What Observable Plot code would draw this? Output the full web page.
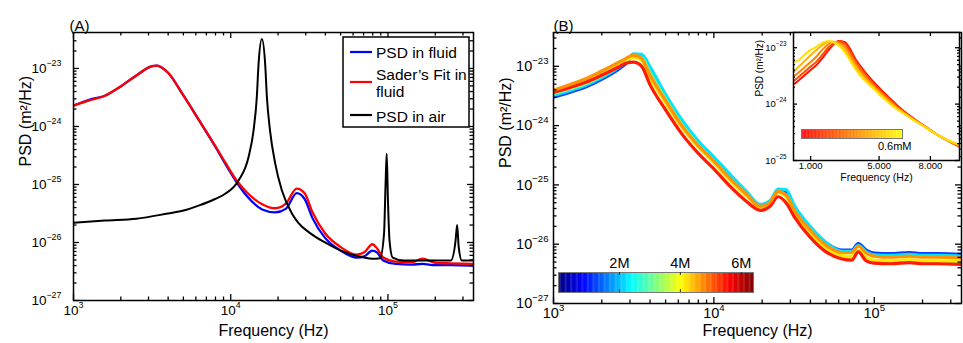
<!DOCTYPE html>
<html><head><meta charset="utf-8">
<script src="https://cdn.jsdelivr.net/npm/d3@7"></script>
<script src="https://cdn.jsdelivr.net/npm/@observablehq/plot@0.6"></script>
<style>
body{margin:0;background:#fff;}
#root{position:relative;width:963px;height:343px;overflow:hidden;background:#fff;font-family:"Liberation Sans",Arial,Helvetica,sans-serif;}
#root > *{position:absolute;}
</style></head><body><div id="root"></div>
<script>
// ---------------- Panel A data (log10 of frequency in Hz, log10 of PSD in m^2/Hz) ----------------
const fluidLogF = [3.0,3.1,3.2,3.3,3.4,3.5,3.53,3.6,3.7,3.8,3.9,3.965,4.04,4.1,4.2,4.283,4.35,4.42,4.47,4.52,4.6,4.7,4.8,4.85,4.9,4.93,4.97,5.05,5.15,5.22,5.3,5.4,5.54];
const fluidLogPSD = [-23.64,-23.54,-23.47,-23.31,-23.12,-22.96,-22.95,-23.07,-23.47,-23.9,-24.34,-24.64,-24.97,-25.19,-25.43,-25.48,-25.42,-25.15,-25.25,-25.58,-25.92,-26.14,-26.26,-26.24,-26.14,-26.17,-26.31,-26.37,-26.38,-26.37,-26.39,-26.39,-26.40];
const fitLogPSD = [-23.64,-23.55,-23.47,-23.31,-23.12,-22.96,-22.95,-23.07,-23.47,-23.9,-24.33,-24.62,-24.94,-25.13,-25.34,-25.41,-25.33,-25.07,-25.15,-25.48,-25.84,-26.08,-26.21,-26.17,-26.03,-26.1,-26.26,-26.33,-26.34,-26.28,-26.35,-26.36,-26.37];
const airLogF = [3.0,3.2,3.4,3.6,3.7,3.8,3.9,3.965,4.05,4.113,4.145,4.166,4.177,4.198,4.219,4.23,4.25,4.283,4.325,4.389,4.43,4.5,4.6,4.7,4.8,4.9,4.95,4.975,4.985,4.992,5.0,5.01,5.03,5.1,5.2,5.3,5.4,5.43,5.44,5.45,5.47,5.54];
const airLogPSD = [-25.66,-25.62,-25.59,-25.5,-25.45,-25.36,-25.25,-25.16,-24.93,-24.53,-24.07,-23.49,-22.92,-22.49,-22.92,-23.49,-24.07,-24.64,-25.1,-25.5,-25.66,-25.83,-26.0,-26.14,-26.23,-26.28,-26.27,-25.85,-24.98,-24.47,-25.28,-25.97,-26.26,-26.31,-26.31,-26.31,-26.31,-25.97,-25.7,-26.08,-26.31,-26.31];
const legendLabelsA = ["PSD in fluid", "Sader\u2019s Fit in", "fluid", "PSD in air"];

// ---------------- Panel B data ----------------
const bLogF = [3.0,3.1,3.2,3.3,3.4,3.45,3.5,3.55,3.6,3.7,3.8,3.9,4.0,4.1,4.2,4.29,4.35,4.4,4.45,4.5,4.6,4.7,4.8,4.86,4.9,4.95,5.0,5.1,5.22,5.3,5.4,5.54];
const bBlue   = [-23.52,-23.44,-23.35,-23.22,-23.06,-22.96,-22.81,-22.84,-23.06,-23.52,-23.95,-24.3,-24.58,-24.87,-25.13,-25.35,-25.3,-25.12,-25.12,-25.38,-25.74,-25.98,-26.1,-26.1,-25.99,-26.1,-26.15,-26.16,-26.14,-26.16,-26.16,-26.17];
const bCyan   = [-23.49,-23.41,-23.32,-23.19,-23.03,-22.93,-22.79,-22.80,-23.0,-23.48,-23.9,-24.25,-24.53,-24.82,-25.1,-25.33,-25.27,-25.07,-25.08,-25.34,-25.7,-25.97,-26.12,-26.12,-26.02,-26.13,-26.18,-26.19,-26.17,-26.19,-26.19,-26.2];
const bGreen  = [-23.46,-23.38,-23.29,-23.16,-23.01,-22.92,-22.83,-22.86,-23.1,-23.56,-23.98,-24.32,-24.6,-24.9,-25.16,-25.37,-25.3,-25.12,-25.17,-25.42,-25.78,-26.05,-26.2,-26.22,-26.12,-26.24,-26.29,-26.31,-26.3,-26.31,-26.31,-26.32];
const bYellow = [-23.42,-23.34,-23.25,-23.12,-22.98,-22.9,-22.85,-22.9,-23.18,-23.62,-24.03,-24.35,-24.63,-24.92,-25.18,-25.37,-25.3,-25.13,-25.2,-25.45,-25.8,-26.06,-26.19,-26.2,-26.1,-26.22,-26.27,-26.28,-26.26,-26.28,-26.28,-26.29];
const bOrange = [-23.40,-23.31,-23.21,-23.08,-22.94,-22.87,-22.81,-22.87,-23.14,-23.58,-24.0,-24.33,-24.6,-24.89,-25.15,-25.36,-25.29,-25.11,-25.17,-25.42,-25.76,-26.02,-26.14,-26.14,-26.03,-26.15,-26.2,-26.22,-26.2,-26.22,-26.22,-26.23];
const bRed    = [-23.44,-23.36,-23.27,-23.15,-23.02,-22.95,-22.93,-23.0,-23.3,-23.74,-24.14,-24.46,-24.73,-25.02,-25.27,-25.43,-25.36,-25.2,-25.3,-25.53,-25.88,-26.13,-26.25,-26.27,-26.13,-26.28,-26.32,-26.33,-26.31,-26.33,-26.33,-26.34];
const bSeriesNames  = ["blue","cyan","green","yellow","red","orange"];
const bSeriesColors = ["#0a3cff","#00e4ff","#86ff78","#ffe800","#ff1a00","#ff9200"];
const bSeriesValues = [bBlue,bCyan,bGreen,bYellow,bRed,bOrange];

// colour bar (panel B): concentration in M
const cbTicks = [2,4,6];
const cbTickLabels = ["2M","4M","6M"];
const jetDomain = [0,0.8,2.4,4.0,5.6,6.4];
const jetColors = ["#00007f","#0000ff","#00ffff","#ffff00","#ff0000","#7f0000"];

// ---------------- Inset data (linear frequency in Hz, log10 PSD) ----------------
const insetF = [50,300,600,900,1300,1700,2000,2300,2650,3000,3300,3620,4100,4600,5100,5570,6050,6550,7000,7520,8000,8490,9100,9700];
const inRed     = [-23.64,-23.58,-23.5,-23.42,-23.32,-23.18,-23.06,-22.95,-22.88,-22.9,-23.02,-23.2,-23.4,-23.58,-23.74,-23.88,-24.02,-24.15,-24.25,-24.36,-24.46,-24.56,-24.66,-24.76];
const inRedOr   = [-23.58,-23.52,-23.44,-23.36,-23.26,-23.12,-23.01,-22.93,-22.89,-22.93,-23.06,-23.23,-23.43,-23.61,-23.77,-23.9,-24.04,-24.16,-24.26,-24.37,-24.46,-24.56,-24.66,-24.75];
const inOrange  = [-23.5,-23.44,-23.36,-23.28,-23.17,-23.03,-22.95,-22.9,-22.91,-22.98,-23.12,-23.28,-23.48,-23.65,-23.8,-23.93,-24.06,-24.17,-24.27,-24.37,-24.47,-24.56,-24.66,-24.74];
const inYOrange = [-23.42,-23.34,-23.25,-23.16,-23.05,-22.95,-22.9,-22.89,-22.94,-23.04,-23.18,-23.33,-23.54,-23.68,-23.83,-23.96,-24.08,-24.18,-24.28,-24.37,-24.47,-24.56,-24.65,-24.73];
const inYellow  = [-23.25,-23.22,-23.14,-23.06,-22.99,-22.91,-22.88,-22.9,-22.96,-23.08,-23.22,-23.38,-23.56,-23.7,-23.85,-23.98,-24.09,-24.19,-24.28,-24.37,-24.47,-24.56,-24.65,-24.72];
const inSeriesColors = ["#ff1400","#ff4a00","#ff8200","#ffb400","#ffe000"];
const inSeriesValues = [inRed,inRedOr,inOrange,inYOrange,inYellow];
const inXTicks = [1000,5000,8000];
const inXTickLabels = ["1.000","5.000","8.000"];
const inBarTickLabel = "0.6mM";

// ---------------- helpers ----------------
const FONT = '"Liberation Sans", Arial, Helvetica, sans-serif';
const root = document.getElementById("root");
const rows = (lf, lp) => lf.map((v, i) => ({f: 10 ** v, psd: 10 ** lp[i]}));
const rowsLin = (f, lp) => f.map((v, i) => ({f: v, psd: 10 ** lp[i]}));
const powFmt = v => { const e = Math.round(Math.log10(v)); return "10^" + (e < 0 ? "\u2212" + (-e) : e); };
function logMinor(lo, hi) {
  const out = [];
  for (let k = Math.floor(Math.log10(lo)); k <= Math.ceil(Math.log10(hi)); k++)
    for (let m = 2; m <= 9; m++) { const v = m * 10 ** k; if (v >= lo && v <= hi) out.push(v); }
  return out;
}
// inward ticks on all four sides (MATLAB box style)
function boxAxes({fw, fh, xMajor, xMinor, yMajor, yMinor, xFmt, yFmt, fs, xPad, yPad, majorLen, minorLen}) {
  const m = [];
  const tx = (data, len) => [
    Plot.tickX(data, {x: d => d, insetTop: fh - len, stroke: "black", strokeWidth: 1.3}),
    Plot.tickX(data, {x: d => d, insetBottom: fh - len, stroke: "black", strokeWidth: 1.3})
  ];
  const ty = (data, len) => [
    Plot.tickY(data, {y: d => d, insetRight: fw - len, stroke: "black", strokeWidth: 1.3}),
    Plot.tickY(data, {y: d => d, insetLeft: fw - len, stroke: "black", strokeWidth: 1.3})
  ];
  m.push(...tx(xMajor, majorLen), ...ty(yMajor, majorLen));
  if (xMinor.length) m.push(...tx(xMinor, minorLen));
  if (yMinor.length) m.push(...ty(yMinor, minorLen));
  m.push(Plot.axisX({anchor: "bottom", ticks: xMajor, tickSize: 0, tickPadding: xPad, tickFormat: xFmt, fontSize: fs, label: null}));
  m.push(Plot.axisY({anchor: "left", ticks: yMajor, tickSize: 0, tickPadding: yPad, tickFormat: yFmt, fontSize: fs, label: null}));
  return m;
}
function supify(svg, fs) {
  svg.querySelectorAll("text").forEach(t => {
    const s = t.textContent;
    if (!s.includes("^")) return;
    const [base, exp] = s.split("^");
    t.textContent = base;
    const ts = document.createElementNS("http://www.w3.org/2000/svg", "tspan");
    ts.setAttribute("font-size", (fs * 0.66).toFixed(1));
    ts.setAttribute("dy", (-fs * 0.5).toFixed(1));
    ts.textContent = exp;
    t.appendChild(ts);
  });
}
function place(el, left, top) { el.style.left = left + "px"; el.style.top = top + "px"; root.appendChild(el); return el; }
const baseStyle = {background: "transparent", fontFamily: FONT, color: "black", overflow: "visible"};

// ---------------- Panel A ----------------
const xMajor = [1e3, 1e4, 1e5];
const xMinorAll = logMinor(1e3, 3.5e5);
const yMajor = [1e-27, 1e-26, 1e-25, 1e-24, 1e-23];
const yMinorAll = logMinor(1e-27, 10 ** -22.4);

const plotA = Plot.plot({
  width: 480, height: 343, marginLeft: 73, marginRight: 7, marginTop: 32, marginBottom: 43,
  style: baseStyle,
  x: {type: "log", domain: [1e3, 3.5e5]},
  y: {type: "log", domain: [1e-27, 10 ** -22.38]},
  marks: [
    Plot.line(rows(fluidLogF, fluidLogPSD), {x: "f", y: "psd", stroke: "#0000ff", strokeWidth: 2.3, curve: "monotone-x", clip: true}),
    Plot.line(rows(fluidLogF, fitLogPSD), {x: "f", y: "psd", stroke: "#ff0000", strokeWidth: 2.3, curve: "monotone-x", clip: true}),
    Plot.line(rows(airLogF, airLogPSD), {x: "f", y: "psd", stroke: "#000000", strokeWidth: 2, curve: "monotone-x", clip: true}),
    Plot.frame({stroke: "black", strokeWidth: 1.5}),
    ...boxAxes({fw: 400, fh: 268, xMajor, xMinor: xMinorAll, yMajor, yMinor: yMinorAll, xFmt: powFmt, yFmt: powFmt, fs: 13.5, xPad: 5, yPad: 12, majorLen: 6, minorLen: 3.5}),
    Plot.text(["(A)"], {text: d => d, frameAnchor: "top-left", dx: -4, dy: -12, textAnchor: "start", fontSize: 15}),
    Plot.text(["Frequency (Hz)"], {text: d => d, frameAnchor: "bottom", dy: 35, fontSize: 16}),
    Plot.text(["PSD (m\u00b2/Hz)"], {text: d => d, frameAnchor: "left", dx: -48, rotate: -90, fontSize: 16})
  ]
});
supify(plotA, 13.5);
place(plotA, 0, 0);

// legend of panel A
(function () {
  const ns = "http://www.w3.org/2000/svg";
  const svg = document.createElementNS(ns, "svg");
  svg.setAttribute("width", 130); svg.setAttribute("height", 94);
  svg.style.fontFamily = FONT;
  const add = (tag, attrs, txt) => { const e = document.createElementNS(ns, tag); for (const k in attrs) e.setAttribute(k, attrs[k]); if (txt) e.textContent = txt; svg.appendChild(e); return e; };
  add("rect", {x: 1, y: 1, width: 126, height: 90, fill: "white", stroke: "black", "stroke-width": 1.5});
  const lines = [["#0000ff", 16], ["#ff0000", 46], ["#000000", 79]];
  lines.forEach(([c, y]) => add("line", {x1: 8, x2: 30, y1: y, y2: y, stroke: c, "stroke-width": 2.2}));
  const ys = [16, 38, 55, 80];
  legendLabelsA.forEach((s, i) => add("text", {x: 34, y: ys[i], dy: "0.36em", "font-size": 15.5}, s));
  place(svg, 342, 36);
})();

// ---------------- Panel B ----------------
const plotB = Plot.plot({
  width: 483, height: 343, marginLeft: 73, marginRight: 2, marginTop: 32, marginBottom: 40,
  style: baseStyle,
  x: {type: "log", domain: [1e3, 3.5e5]},
  y: {type: "log", domain: [1e-27, 10 ** -22.43]},
  marks: [
    ...bSeriesValues.map((vals, i) => Plot.line(rows(bLogF, vals), {x: "f", y: "psd", stroke: bSeriesColors[i], strokeWidth: 3.2, curve: "monotone-x", clip: true})),
    Plot.frame({stroke: "black", strokeWidth: 1.5}),
    ...boxAxes({fw: 408, fh: 271, xMajor, xMinor: xMinorAll, yMajor, yMinor: yMinorAll, xFmt: powFmt, yFmt: powFmt, fs: 14.5, xPad: 4, yPad: 5, majorLen: 6, minorLen: 3.5}),
    Plot.text(["(B)"], {text: d => d, frameAnchor: "top-left", dx: 0, dy: -12, textAnchor: "start", fontSize: 15}),
    Plot.text(["Frequency (Hz)"], {text: d => d, frameAnchor: "bottom", dy: 32, fontSize: 16}),
    Plot.text(["PSD (m\u00b2/Hz)"], {text: d => d, frameAnchor: "left", dx: -48, rotate: -90, fontSize: 16})
  ]
});
supify(plotB, 14.5);
place(plotB, 480, 0);

// colour bar B
const cbSteps = d3.range(0, 6.4, 0.04);
const cbB = Plot.plot({
  width: 220, height: 55, marginLeft: 13, marginRight: 12, marginTop: 27, marginBottom: 8,
  style: baseStyle,
  x: {domain: [0, 6.4]}, y: {domain: [0, 1], axis: null},
  color: {type: "linear", domain: jetDomain, range: jetColors, interpolate: "rgb"},
  marks: [
    Plot.rect(cbSteps, {x1: d => d, x2: d => Math.min(6.4, d + 0.05), y1: () => 0, y2: () => 1, fill: d => d}),
    Plot.frame({stroke: "#777", strokeWidth: 1}),
    Plot.tickX(cbTicks, {x: d => d, insetTop: 17, stroke: "#333"}),
    Plot.tickX(cbTicks, {x: d => d, insetBottom: 17, stroke: "#333"}),
    Plot.axisX({anchor: "top", ticks: cbTicks, tickSize: 0, tickPadding: 5, tickFormat: (d, i) => cbTickLabels[i], fontSize: 14.5, label: null})
  ]
});
place(cbB, 545, 245);

// ---------------- Inset ----------------
const inYMajor = [1e-25, 1e-24, 1e-23];
const inYMinor = logMinor(1e-25, 10 ** -22.75);
const inset = Plot.plot({
  width: 223, height: 200, marginLeft: 53, marginRight: 4, marginTop: 32, marginBottom: 40,
  style: baseStyle,
  x: {type: "linear", domain: [0, 9700]},
  y: {type: "log", domain: [1e-25, 10 ** -22.73]},
  marks: [
    Plot.frame({fill: "white", stroke: null}),
    ...inSeriesValues.map((vals, i) => Plot.line(rowsLin(insetF, vals), {x: "f", y: "psd", stroke: inSeriesColors[i], strokeWidth: 2, curve: "monotone-x", clip: true})),
    Plot.frame({stroke: "black", strokeWidth: 1.5}),
    ...boxAxes({fw: 166, fh: 128, xMajor: inXTicks, xMinor: [], yMajor: inYMajor, yMinor: inYMinor, xFmt: (d, i) => inXTickLabels[i], yFmt: powFmt, fs: 9.5, xPad: 2, yPad: 7, majorLen: 4, minorLen: 2}),
    Plot.text(["Frequency (Hz)"], {text: d => d, frameAnchor: "bottom", dy: 20, fontSize: 10.5}),
    Plot.text(["PSD (m\u00b2/Hz)"], {text: d => d, frameAnchor: "left", dx: -34, rotate: -90, fontSize: 10})
  ]
});
supify(inset, 9.5);
place(inset, 740, 0);

// colour bar inset
const cbInSteps = d3.range(0, 0.65, 0.005);
const cbIn = Plot.plot({
  width: 130, height: 40, marginLeft: 11, marginRight: 18, marginTop: 10, marginBottom: 21,
  style: baseStyle,
  x: {domain: [0, 0.65]}, y: {domain: [0, 1], axis: null},
  color: {type: "linear", domain: [0, 0.65], range: ["#ff0000", "#ffff00"], interpolate: "rgb"},
  marks: [
    Plot.rect(cbInSteps, {x1: d => d, x2: d => Math.min(0.65, d + 0.006), y1: () => 0, y2: () => 1, fill: d => d}),
    Plot.frame({stroke: "#777", strokeWidth: 1}),
    Plot.axisX({anchor: "bottom", ticks: [0.6], tickSize: 0, tickPadding: 4, tickFormat: () => inBarTickLabel, fontSize: 11, label: null})
  ]
});
place(cbIn, 790, 119);
</script></body></html>
